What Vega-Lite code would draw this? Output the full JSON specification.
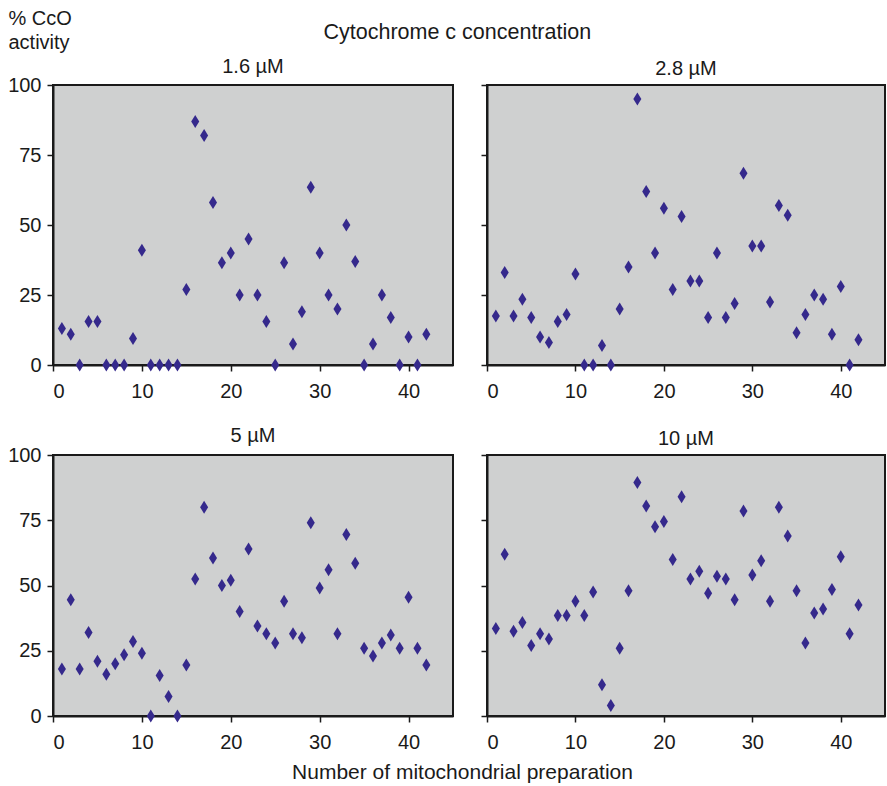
{
  "$schema": "https://vega.github.io/schema/vega-lite/v6.json",
  "background": "white",
  "padding": {"left": 6, "top": 7, "right": 0, "bottom": 0},
  "config": {
    "font": "Liberation Sans, Arial, sans-serif",
    "view": {"fill": "#cfd0d0", "stroke": "#1a1a1a", "strokeWidth": 2},
    "axis": {"grid": false, "domainColor": "#1a1a1a", "domainWidth": 2, "tickColor": "#1a1a1a", "tickSize": 6, "tickWidth": 1.5, "labelFontSize": 20, "labelColor": "#1a1a1a", "titleFontSize": 20, "titleFontWeight": "normal", "titleColor": "#1a1a1a", "labelPadding": 6},
    "axisX": {"labelPadding": 10},
    "title": {"fontSize": 20, "fontWeight": "normal", "color": "#1a1a1a", "offset": 5}
  },
  "title": {"text": "Cytochrome c concentration", "anchor": "middle", "baseline": "alphabetic", "offset": -53, "dx": 11, "fontSize": 21.5},
  "datasets": {
    "d": [
      {"conc":"1.6 µM","prep":1,"activity":13},{"conc":"1.6 µM","prep":2,"activity":11},{"conc":"1.6 µM","prep":3,"activity":0},{"conc":"1.6 µM","prep":4,"activity":15.5},{"conc":"1.6 µM","prep":5,"activity":15.5},{"conc":"1.6 µM","prep":6,"activity":0},{"conc":"1.6 µM","prep":7,"activity":0},{"conc":"1.6 µM","prep":8,"activity":0},{"conc":"1.6 µM","prep":9,"activity":9.5},{"conc":"1.6 µM","prep":10,"activity":41},{"conc":"1.6 µM","prep":11,"activity":0},{"conc":"1.6 µM","prep":12,"activity":0},{"conc":"1.6 µM","prep":13,"activity":0},{"conc":"1.6 µM","prep":14,"activity":0},{"conc":"1.6 µM","prep":15,"activity":27},{"conc":"1.6 µM","prep":16,"activity":87},{"conc":"1.6 µM","prep":17,"activity":82},{"conc":"1.6 µM","prep":18,"activity":58},{"conc":"1.6 µM","prep":19,"activity":36.5},{"conc":"1.6 µM","prep":20,"activity":40},{"conc":"1.6 µM","prep":21,"activity":25},{"conc":"1.6 µM","prep":22,"activity":45},{"conc":"1.6 µM","prep":23,"activity":25},{"conc":"1.6 µM","prep":24,"activity":15.5},{"conc":"1.6 µM","prep":25,"activity":0},{"conc":"1.6 µM","prep":26,"activity":36.5},{"conc":"1.6 µM","prep":27,"activity":7.5},{"conc":"1.6 µM","prep":28,"activity":19},{"conc":"1.6 µM","prep":29,"activity":63.5},{"conc":"1.6 µM","prep":30,"activity":40},{"conc":"1.6 µM","prep":31,"activity":25},{"conc":"1.6 µM","prep":32,"activity":20},{"conc":"1.6 µM","prep":33,"activity":50},{"conc":"1.6 µM","prep":34,"activity":37},{"conc":"1.6 µM","prep":35,"activity":0},{"conc":"1.6 µM","prep":36,"activity":7.5},{"conc":"1.6 µM","prep":37,"activity":25},{"conc":"1.6 µM","prep":38,"activity":17},{"conc":"1.6 µM","prep":39,"activity":0},{"conc":"1.6 µM","prep":40,"activity":10},{"conc":"1.6 µM","prep":41,"activity":0},{"conc":"1.6 µM","prep":42,"activity":11},
      {"conc":"2.8 µM","prep":1,"activity":17.5},{"conc":"2.8 µM","prep":2,"activity":33},{"conc":"2.8 µM","prep":3,"activity":17.5},{"conc":"2.8 µM","prep":4,"activity":23.5},{"conc":"2.8 µM","prep":5,"activity":17},{"conc":"2.8 µM","prep":6,"activity":10},{"conc":"2.8 µM","prep":7,"activity":8},{"conc":"2.8 µM","prep":8,"activity":15.5},{"conc":"2.8 µM","prep":9,"activity":18},{"conc":"2.8 µM","prep":10,"activity":32.5},{"conc":"2.8 µM","prep":11,"activity":0},{"conc":"2.8 µM","prep":12,"activity":0},{"conc":"2.8 µM","prep":13,"activity":7},{"conc":"2.8 µM","prep":14,"activity":0},{"conc":"2.8 µM","prep":15,"activity":20},{"conc":"2.8 µM","prep":16,"activity":35},{"conc":"2.8 µM","prep":17,"activity":95},{"conc":"2.8 µM","prep":18,"activity":62},{"conc":"2.8 µM","prep":19,"activity":40},{"conc":"2.8 µM","prep":20,"activity":56},{"conc":"2.8 µM","prep":21,"activity":27},{"conc":"2.8 µM","prep":22,"activity":53},{"conc":"2.8 µM","prep":23,"activity":30},{"conc":"2.8 µM","prep":24,"activity":30},{"conc":"2.8 µM","prep":25,"activity":17},{"conc":"2.8 µM","prep":26,"activity":40},{"conc":"2.8 µM","prep":27,"activity":17},{"conc":"2.8 µM","prep":28,"activity":22},{"conc":"2.8 µM","prep":29,"activity":68.5},{"conc":"2.8 µM","prep":30,"activity":42.5},{"conc":"2.8 µM","prep":31,"activity":42.5},{"conc":"2.8 µM","prep":32,"activity":22.5},{"conc":"2.8 µM","prep":33,"activity":57},{"conc":"2.8 µM","prep":34,"activity":53.5},{"conc":"2.8 µM","prep":35,"activity":11.5},{"conc":"2.8 µM","prep":36,"activity":18},{"conc":"2.8 µM","prep":37,"activity":25},{"conc":"2.8 µM","prep":38,"activity":23.5},{"conc":"2.8 µM","prep":39,"activity":11},{"conc":"2.8 µM","prep":40,"activity":28},{"conc":"2.8 µM","prep":41,"activity":0},{"conc":"2.8 µM","prep":42,"activity":9},
      {"conc":"5 µM","prep":1,"activity":18},{"conc":"5 µM","prep":2,"activity":44.5},{"conc":"5 µM","prep":3,"activity":18},{"conc":"5 µM","prep":4,"activity":32},{"conc":"5 µM","prep":5,"activity":21},{"conc":"5 µM","prep":6,"activity":16},{"conc":"5 µM","prep":7,"activity":20},{"conc":"5 µM","prep":8,"activity":23.5},{"conc":"5 µM","prep":9,"activity":28.5},{"conc":"5 µM","prep":10,"activity":24},{"conc":"5 µM","prep":11,"activity":0},{"conc":"5 µM","prep":12,"activity":15.5},{"conc":"5 µM","prep":13,"activity":7.5},{"conc":"5 µM","prep":14,"activity":0},{"conc":"5 µM","prep":15,"activity":19.5},{"conc":"5 µM","prep":16,"activity":52.5},{"conc":"5 µM","prep":17,"activity":80},{"conc":"5 µM","prep":18,"activity":60.5},{"conc":"5 µM","prep":19,"activity":50},{"conc":"5 µM","prep":20,"activity":52},{"conc":"5 µM","prep":21,"activity":40},{"conc":"5 µM","prep":22,"activity":64},{"conc":"5 µM","prep":23,"activity":34.5},{"conc":"5 µM","prep":24,"activity":31.5},{"conc":"5 µM","prep":25,"activity":28},{"conc":"5 µM","prep":26,"activity":44},{"conc":"5 µM","prep":27,"activity":31.5},{"conc":"5 µM","prep":28,"activity":30},{"conc":"5 µM","prep":29,"activity":74},{"conc":"5 µM","prep":30,"activity":49},{"conc":"5 µM","prep":31,"activity":56},{"conc":"5 µM","prep":32,"activity":31.5},{"conc":"5 µM","prep":33,"activity":69.5},{"conc":"5 µM","prep":34,"activity":58.5},{"conc":"5 µM","prep":35,"activity":26},{"conc":"5 µM","prep":36,"activity":23},{"conc":"5 µM","prep":37,"activity":28},{"conc":"5 µM","prep":38,"activity":31},{"conc":"5 µM","prep":39,"activity":26},{"conc":"5 µM","prep":40,"activity":45.5},{"conc":"5 µM","prep":41,"activity":26},{"conc":"5 µM","prep":42,"activity":19.5},
      {"conc":"10 µM","prep":1,"activity":33.5},{"conc":"10 µM","prep":2,"activity":62},{"conc":"10 µM","prep":3,"activity":32.5},{"conc":"10 µM","prep":4,"activity":35.8},{"conc":"10 µM","prep":5,"activity":27},{"conc":"10 µM","prep":6,"activity":31.5},{"conc":"10 µM","prep":7,"activity":29.5},{"conc":"10 µM","prep":8,"activity":38.5},{"conc":"10 µM","prep":9,"activity":38.5},{"conc":"10 µM","prep":10,"activity":44},{"conc":"10 µM","prep":11,"activity":38.5},{"conc":"10 µM","prep":12,"activity":47.5},{"conc":"10 µM","prep":13,"activity":12},{"conc":"10 µM","prep":14,"activity":4},{"conc":"10 µM","prep":15,"activity":26},{"conc":"10 µM","prep":16,"activity":48},{"conc":"10 µM","prep":17,"activity":89.5},{"conc":"10 µM","prep":18,"activity":80.5},{"conc":"10 µM","prep":19,"activity":72.5},{"conc":"10 µM","prep":20,"activity":74.5},{"conc":"10 µM","prep":21,"activity":60},{"conc":"10 µM","prep":22,"activity":84},{"conc":"10 µM","prep":23,"activity":52.5},{"conc":"10 µM","prep":24,"activity":55.5},{"conc":"10 µM","prep":25,"activity":47},{"conc":"10 µM","prep":26,"activity":53.5},{"conc":"10 µM","prep":27,"activity":52.5},{"conc":"10 µM","prep":28,"activity":44.5},{"conc":"10 µM","prep":29,"activity":78.5},{"conc":"10 µM","prep":30,"activity":54},{"conc":"10 µM","prep":31,"activity":59.5},{"conc":"10 µM","prep":32,"activity":44},{"conc":"10 µM","prep":33,"activity":80},{"conc":"10 µM","prep":34,"activity":69},{"conc":"10 µM","prep":35,"activity":48},{"conc":"10 µM","prep":36,"activity":28},{"conc":"10 µM","prep":37,"activity":39.5},{"conc":"10 µM","prep":38,"activity":41},{"conc":"10 µM","prep":39,"activity":48.5},{"conc":"10 µM","prep":40,"activity":61},{"conc":"10 µM","prep":41,"activity":31.5},{"conc":"10 µM","prep":42,"activity":42.5}
    ]
  },
  "columns": 2,
  "bounds": "flush",
  "spacing": {"row": 90, "column": 34},
  "concat": [
    {
      "title": {"text": "1.6 µM", "offset": -69}, "width": 400, "height": 280,
      "data": {"name": "d"},
      "transform": [{"filter": {"field": "conc", "equal": "1.6 µM"}}],
      "mark": {"type": "point", "shape": "M0,-1L0.62,0L0,1L-0.62,0Z", "filled": true, "size": 169, "color": "#35298c", "opacity": 1},
      "encoding": {
        "x": {"field": "prep", "type": "quantitative", "scale": {"domain": [0, 45], "nice": false}, "axis": {"values": [0, 10, 20, 30, 40], "title": null}},
        "y": {"field": "activity", "type": "quantitative", "scale": {"domain": [0, 100], "nice": false}, "axis": {"values": [0, 25, 50, 75, 100], "title": ["% CcO", "activity"], "titleAngle": 0, "titleAlign": "left", "titleBaseline": "top", "titleX": -45, "titleY": -77, "titleLineHeight": 24}}
      }
    },
    {
      "title": "2.8 µM", "width": 398, "height": 280,
      "data": {"name": "d"},
      "transform": [{"filter": {"field": "conc", "equal": "2.8 µM"}}],
      "mark": {"type": "point", "shape": "M0,-1L0.62,0L0,1L-0.62,0Z", "filled": true, "size": 169, "color": "#35298c", "opacity": 1},
      "encoding": {
        "x": {"field": "prep", "type": "quantitative", "scale": {"domain": [0, 45], "nice": false}, "axis": {"values": [0, 10, 20, 30, 40], "title": null}},
        "y": {"field": "activity", "type": "quantitative", "scale": {"domain": [0, 100], "nice": false}, "axis": {"values": [0, 25, 50, 75, 100], "labels": false, "title": null}}
      }
    },
    {
      "title": {"text": "5 µM", "offset": -1}, "width": 400, "height": 261,
      "data": {"name": "d"},
      "transform": [{"filter": {"field": "conc", "equal": "5 µM"}}],
      "mark": {"type": "point", "shape": "M0,-1L0.62,0L0,1L-0.62,0Z", "filled": true, "size": 169, "color": "#35298c", "opacity": 1},
      "encoding": {
        "x": {"field": "prep", "type": "quantitative", "scale": {"domain": [0, 45], "nice": false}, "axis": {"values": [0, 10, 20, 30, 40], "title": "Number of mitochondrial preparation", "titleFontSize": 21, "titleAnchor": "start", "titleAlign": "center", "titleX": 409, "titleY": 62, "titleBaseline": "alphabetic"}},
        "y": {"field": "activity", "type": "quantitative", "scale": {"domain": [0, 100], "nice": false}, "axis": {"values": [0, 25, 50, 75, 100], "title": null}}
      }
    },
    {
      "title": "10 µM", "width": 398, "height": 261,
      "data": {"name": "d"},
      "transform": [{"filter": {"field": "conc", "equal": "10 µM"}}],
      "mark": {"type": "point", "shape": "M0,-1L0.62,0L0,1L-0.62,0Z", "filled": true, "size": 169, "color": "#35298c", "opacity": 1},
      "encoding": {
        "x": {"field": "prep", "type": "quantitative", "scale": {"domain": [0, 45], "nice": false}, "axis": {"values": [0, 10, 20, 30, 40], "title": null}},
        "y": {"field": "activity", "type": "quantitative", "scale": {"domain": [0, 100], "nice": false}, "axis": {"values": [0, 25, 50, 75, 100], "labels": false, "title": null}}
      }
    }
  ]
}
